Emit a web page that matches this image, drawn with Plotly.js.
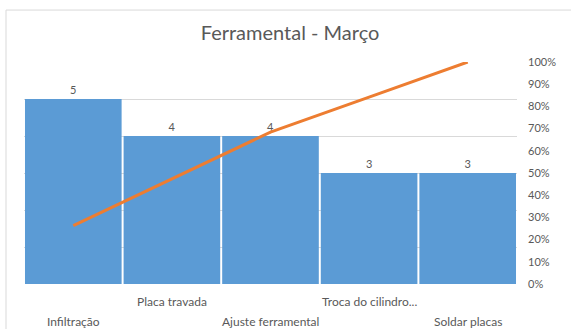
<!DOCTYPE html>
<html>
<head>
<meta charset="utf-8">
<script src="https://cdn.plot.ly/plotly-3.0.1.min.js"></script>
<style>html,body{margin:0;padding:0;background:#fff;}#chart{width:571px;height:329px;}</style>
</head>
<body>
<div id="chart"></div>
<script>
const categories = ["Infiltração", "Placa travada", "Ajuste ferramental", "Troca do cilindro...", "Soldar placas"];
const counts = [5, 4, 4, 3, 3];
const rightTicks = [0, 0.1, 0.2, 0.3, 0.4, 0.5, 0.6, 0.7, 0.8, 0.9, 1.0];
const rightTickText = ["0%", "10%", "20%", "30%", "40%", "50%", "60%", "70%", "80%", "90%", "100%"];

const total = counts.reduce((a, b) => a + b, 0);
let run = 0;
const cumulative = counts.map(v => { run += v; return run / total; });

const font = "Lato, 'Open Sans', sans-serif";
const grey = "#595959";

const traces = [
  {
    type: "bar", x: categories, y: counts,
    marker: { color: "#5B9BD5" },
    text: counts.map(String), textposition: "outside",
    textfont: { family: font, size: 11, color: grey },
    cliponaxis: false, hoverinfo: "none"
  },
  {
    type: "scatter", mode: "lines", x: categories, y: cumulative, yaxis: "y2",
    line: { color: "#ED7D31", width: 3 }, hoverinfo: "none"
  }
];

const annotations = categories.map((c, i) => ({
  x: c, xref: "x", yref: "paper",
  y: i % 2 === 0 ? -0.171 : -0.0766,
  yanchor: "middle", xanchor: "center",
  text: c, showarrow: false,
  font: { family: font, size: 12, color: grey }
}));

const layout = {
  width: 571, height: 329,
  margin: { l: 24, r: 54, t: 62, b: 45 },
  paper_bgcolor: "#fff", plot_bgcolor: "#fff",
  showlegend: false,
  bargap: 0.02,
  title: { text: "Ferramental - Março", x: 0.508, xanchor: "center", y: 0.9, yanchor: "middle",
           font: { family: font, size: 20, color: grey } },
  xaxis: { showticklabels: false, showgrid: false, zeroline: false, showline: false, ticks: "" },
  yaxis: { range: [0, 6], dtick: 1, showticklabels: false, showgrid: true, gridcolor: "#d9d9d9",
           gridwidth: 1, zeroline: false, showline: false, ticks: "" },
  yaxis2: { overlaying: "y", side: "right", range: [0, 1], tickvals: rightTicks, ticktext: rightTickText,
            showgrid: false, zeroline: false, showline: false, ticks: "", ticklabelstandoff: 10,
            tickfont: { family: font, size: 11, color: grey } },
  annotations: annotations,
  shapes: [
    { type: "rect", xref: "paper", yref: "paper", x0: -0.0365, x1: 1.2, y0: -0.35, y1: 1.234,
      line: { color: "#d9d9d9", width: 1 }, fillcolor: "rgba(0,0,0,0)", layer: "below" }
  ]
};

Plotly.newPlot("chart", traces, layout, { displayModeBar: false, staticPlot: true });
</script>
</body>
</html>
